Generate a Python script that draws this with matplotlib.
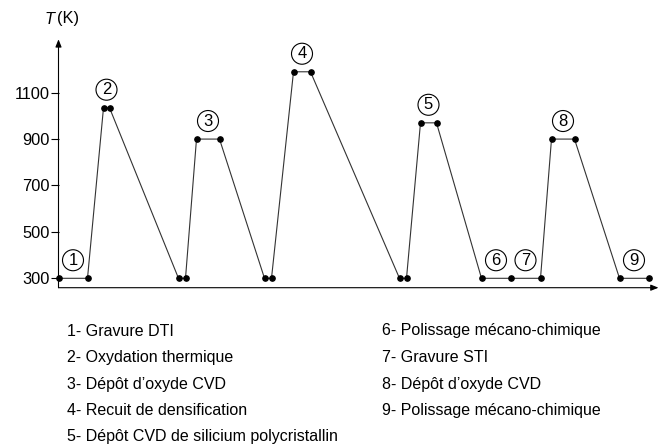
import matplotlib
matplotlib.use("Agg")
import matplotlib.pyplot as plt

plt.rcParams['font.family'] = ['Liberation Sans', 'DejaVu Sans']

# ---- data ----
time = [0, 29, 45, 51, 120, 127, 138, 161, 206, 213, 235, 252,
        341, 348, 362, 378, 423, 452, 482, 493, 516, 561, 590]
temperature = [300, 300, 1035, 1035, 300, 300, 900, 900, 300, 300, 1190, 1190,
               300, 300, 970, 970, 300, 300, 300, 900, 900, 300, 300]
step_numbers = ["1", "2", "3", "4", "5", "6", "7", "8", "9"]
step_segments = [(0, 1), (2, 3), (6, 7), (10, 11), (14, 15), (16, 17), (17, 18), (19, 20), (21, 22)]
yticks = [300, 500, 700, 900, 1100]
steps_left = ["1- Gravure DTI", "2- Oxydation thermique", "3- Dépôt d’oxyde CVD",
              "4- Recuit de densification", "5- Dépôt CVD de silicium polycristallin"]
steps_right = ["6- Polissage mécano-chimique", "7- Gravure STI", "8- Dépôt d’oxyde CVD",
               "9- Polissage mécano-chimique"]

W, H = 662, 445
fig = plt.figure(figsize=(W / 100, H / 100), dpi=100)
ax = fig.add_axes([58.5 / W, (H - 287.7) / H, 600 / W, 248.4 / H])
ax.set_xlim(0, 600)
ax.set_ylim(259.5, 1330)

ax.plot(time, temperature, color='#333333', lw=0.8, zorder=2, clip_on=False)
ax.plot(time, temperature, ls='none', marker='o', ms=3.8, color='black', zorder=3, clip_on=False)

for lab, (i, j) in zip(step_numbers, step_segments):
    xm = (time[i] + time[j]) / 2
    ym = (temperature[i] + temperature[j]) / 2
    ax.annotate(lab, xy=(xm, ym), xytext=(0, 13), textcoords='offset points',
                ha='center', va='center', fontsize=12,
                bbox=dict(boxstyle='circle,pad=0.18', fc='white', ec='black', lw=0.8))

for s in ax.spines.values():
    s.set_visible(False)
ax.set_xticks([])
ax.set_yticks(yticks)
ax.set_yticklabels([str(v) for v in yticks])
ax.tick_params(axis='y', direction='out', length=5.5, width=0.8, pad=1, labelsize=11.8)

arrow = dict(arrowstyle='-|>,head_length=0.45,head_width=0.18', color='black', lw=0.8,
             shrinkA=0, shrinkB=0)
ax.annotate('', xy=(0, 1), xytext=(0, 0), xycoords='axes fraction', arrowprops=arrow)
ax.annotate('', xy=(1, 0), xytext=(0, 0), xycoords='axes fraction', arrowprops=arrow)

fig.text(45 / W, 1 - 19 / H, 'T', style='italic', fontsize=11.8, ha='left', va='center')
fig.text(57 / W, 1 - 19 / H, '(K)', fontsize=11.8, ha='left', va='center')

row_base = [335.5, 362, 388.5, 415, 441.5]
for k, t in enumerate(steps_left):
    fig.text(66.7 / W, 1 - row_base[k] / H, t, fontsize=11.5, ha='left', va='baseline')
for k, t in enumerate(steps_right):
    fig.text(381.7 / W, 1 - row_base[k] / H, t, fontsize=11.5, ha='left', va='baseline')

fig.savefig('out.png', dpi=100)
